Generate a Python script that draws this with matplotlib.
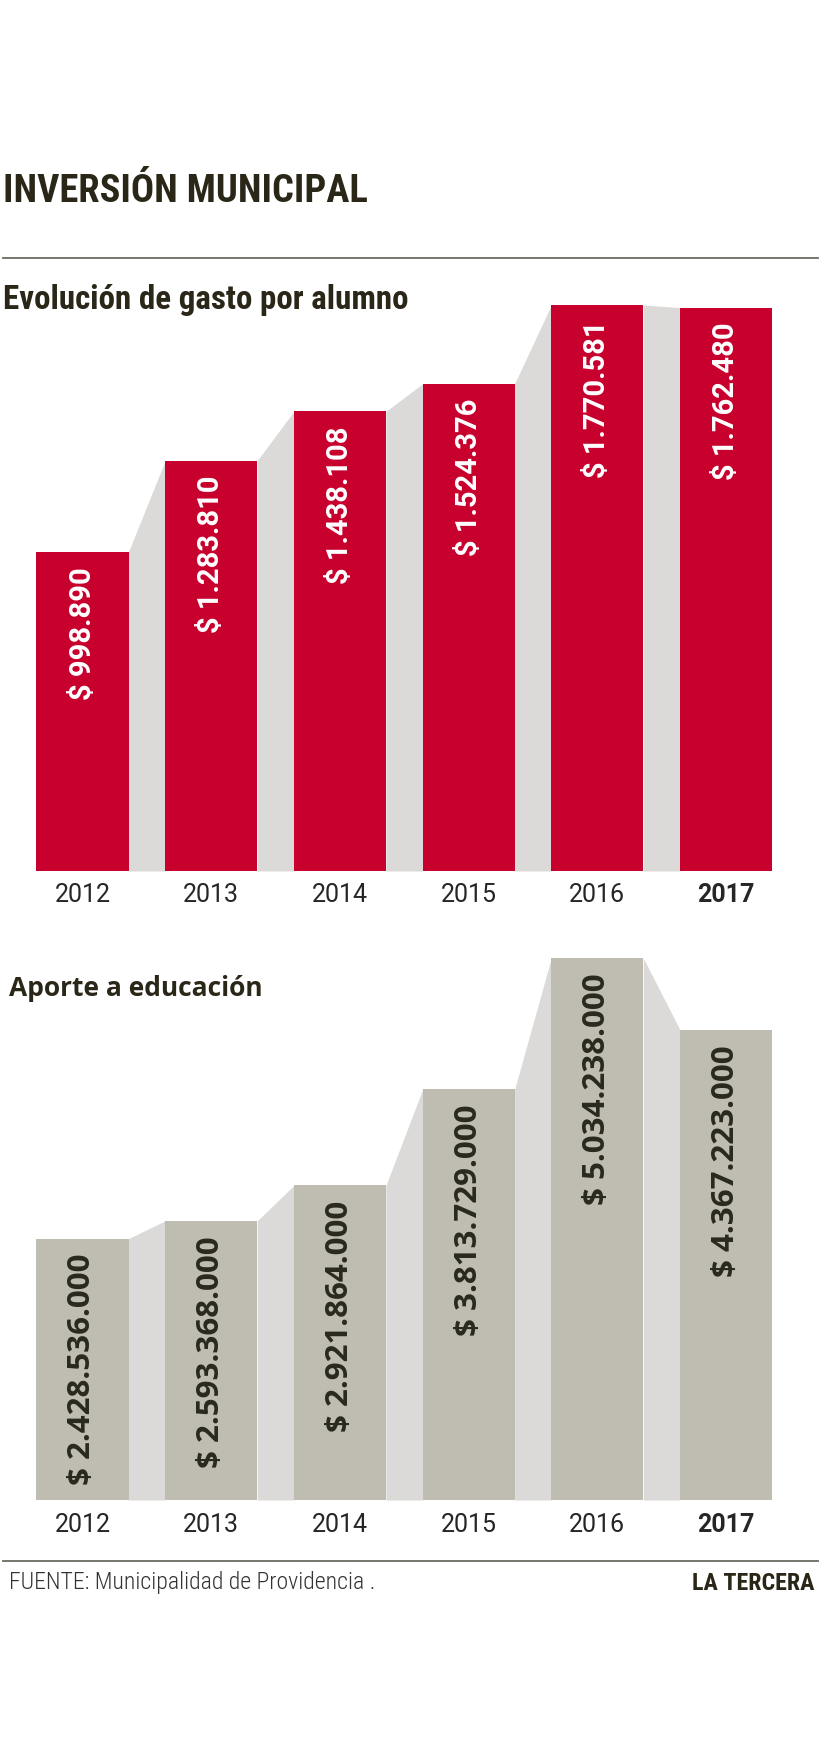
import numpy as np
import matplotlib.pyplot as plt
from matplotlib import font_manager

# Data
years = ["2012", "2013", "2014", "2015", "2016", "2017"]
gasto_alumno = [998890, 1283810, 1438108, 1524376, 1770581, 1762480]
aporte_educacion = [2428536000, 2593368000, 2921864000, 3813729000, 5034238000, 4367223000]

W, H = 840, 1750
RED = "#c8002d"
BEIGE = "#bfbdb1"
GAP = "#dbdad8"
DARK = "#2b2718"

installed = {f.name for f in font_manager.fontManager.ttflist}


def pick(*names):
    for n in names:
        if n in installed:
            return n
    return "DejaVu Sans"


COND = pick("Roboto Condensed", "Liberation Sans Narrow", "Open Sans Condensed", "Roboto")
ROBOTO = pick("Roboto", "Lato")
OPEN = pick("Open Sans", "Lato", "Roboto")


def fmt(v):
    return "$ " + f"{v:,}".replace(",", ".")


fig = plt.figure(figsize=(W / 100, H / 100), dpi=100)
renderer = fig.canvas.get_renderer()


def fig_text(x_px, y_px, s, width_px=None, size=20, **kw):
    t = fig.text(x_px / W, 1 - y_px / H, s, fontsize=size, va="center", **kw)
    if width_px:
        bb = t.get_window_extent(renderer)
        t.set_fontsize(size * width_px / bb.width)
    return t


def hline(y_px, x0=3, x1=818):
    fig.add_artist(plt.Line2D([x0 / W, x1 / W], [1 - y_px / H] * 2,
                              transform=fig.transFigure, color="#6b6a60", lw=1.3))


def bar_panel(rect, values, ymax, bar_color, text_color, label_font, label_size):
    ax = fig.add_axes(rect)
    x = np.arange(len(values))
    w = 0.715
    # grey connectors between the bars
    for i in range(len(values) - 1):
        ax.fill_between([x[i] + w / 2, x[i + 1] - w / 2], [values[i], values[i + 1]],
                        color=GAP, lw=0)
    ax.bar(x, values, width=w, color=bar_color, zorder=2)
    for xi, v in zip(x, values):
        ax.annotate(fmt(v), (xi, v), xytext=(0, -11), textcoords="offset points",
                    rotation=90, ha="center", va="top", color=text_color,
                    fontsize=label_size, fontweight="bold", family=label_font, zorder=3)
    ax.set_xlim(-0.5, len(values) - 0.5)
    ax.set_ylim(0, ymax)
    ax.set_xticks(x)
    ax.set_xticklabels(years, fontsize=18, family=ROBOTO, fontweight="normal", color="#262626")
    ax.get_xticklabels()[-1].set_fontweight("bold")
    ax.tick_params(axis="x", length=0, pad=9)
    ax.set_yticks([])
    for s in ax.spines.values():
        s.set_visible(False)
    ax.patch.set_alpha(0)
    return ax


left = 18.15 / W
width = 772.2 / W

# Top panel: gasto por alumno
bar_panel([left, (H - 871) / H, width, 581 / H], gasto_alumno, 1.8175e6,
          RED, "white", ROBOTO, 21)

# Bottom panel: aporte a educacion
bar_panel([left, (H - 1500) / H, width, 560 / H], aporte_educacion, 5.2014e9,
          BEIGE, "#2a2920", OPEN, 22.5)

# Titles and texts
fig_text(3, 192, "INVERSIÓN MUNICIPAL", width_px=365, size=28, family=COND,
         fontweight="black", color=DARK)
hline(258)
fig_text(3, 300, "Evolución de gasto por alumno", width_px=406, size=22, family=COND,
         fontweight="bold", color=DARK)
fig_text(9, 989, "Aporte a educación", width_px=253, size=22, family=OPEN,
         fontweight="bold", color=DARK)
hline(1561)
fig_text(9, 1583, "FUENTE: Municipalidad de Providencia .", width_px=367, size=15,
         family=COND, fontweight="light", color="#333333")
fig_text(692, 1583, "LA TERCERA", width_px=123, size=15, family=COND,
         fontweight="bold", color=DARK)

fig.savefig("out.png", dpi=100, facecolor="white")
